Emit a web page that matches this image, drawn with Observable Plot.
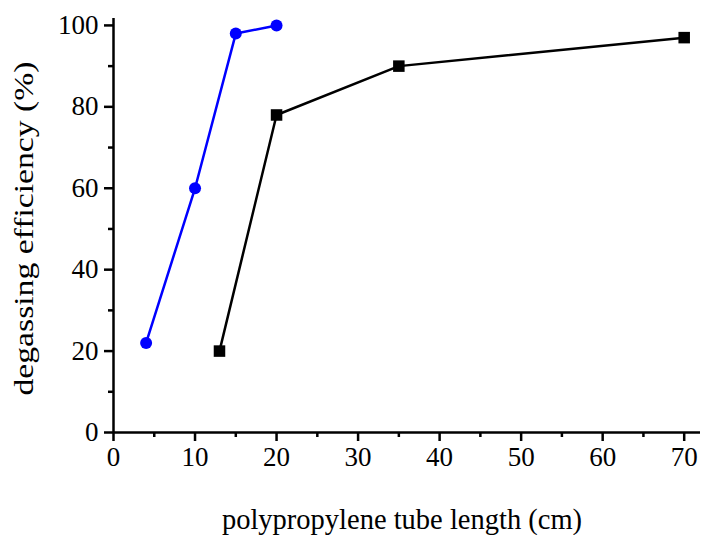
<!DOCTYPE html>
<html>
<head>
<meta charset="utf-8">
<script src="https://cdn.jsdelivr.net/npm/d3@7"></script>
<script src="https://cdn.jsdelivr.net/npm/@observablehq/plot@0.6"></script>
<style>
body{margin:0;padding:0;background:#fff;}
</style>
</head>
<body>
<div id="chart"></div>
<script>
const blueX = [4, 10, 15, 20];
const blueY = [22, 60, 98, 100];
const blackX = [13, 20, 35, 70];
const blackY = [20, 78, 90, 97];
const xMajor = [0, 10, 20, 30, 40, 50, 60, 70];
const xMinor = [5, 15, 25, 35, 45, 55, 65];
const yMajor = [0, 20, 40, 60, 80, 100];
const yMinor = [10, 30, 50, 70, 90];

const blue = blueX.map((x, i) => ({x, y: blueY[i]}));
const black = blackX.map((x, i) => ({x, y: blackY[i]}));

const chart = Plot.plot({
  width: 702,
  height: 535,
  marginLeft: 113,
  marginRight: 2,
  marginTop: 18,
  marginBottom: 103,
  style: {fontFamily: "'Liberation Serif', serif", fontSize: "28px", background: "#fff", color: "#000"},
  x: {domain: [0, 72]},
  y: {domain: [0, 101.7]},
  marks: [
    Plot.axisX(xMinor, {tickSize: 5, strokeWidth: 2.5, text: null, label: null}),
    Plot.axisX(xMajor, {tickSize: 9, strokeWidth: 2.5, tickPadding: 5, fontSize: 27,
      label: "polypropylene tube length (cm)", labelAnchor: "center", labelArrow: "none", labelOffset: 96}),
    Plot.axisY(yMinor, {tickSize: 5, strokeWidth: 2.5, text: null, label: null}),
    Plot.axisY(yMajor, {tickSize: 9, strokeWidth: 2.5, tickPadding: 6, fontSize: 27,
      label: "degassing efficiency (%)", labelAnchor: "center", labelArrow: "none", labelOffset: 100}),
    Plot.ruleX([0], {strokeWidth: 2.5}),
    Plot.ruleY([0], {strokeWidth: 2.5}),
    Plot.line(blue, {x: "x", y: "y", stroke: "#0000ff", strokeWidth: 2.5}),
    Plot.dot(blue, {x: "x", y: "y", r: 6, fill: "#0000ff", stroke: "none"}),
    Plot.line(black, {x: "x", y: "y", stroke: "#000", strokeWidth: 2.5}),
    Plot.dot(black, {x: "x", y: "y", symbol: "square", r: 6.5, fill: "#000", stroke: "none"})
  ]
});
const yl = chart.querySelector('[aria-label="y-axis label"] text');
if (yl) {
  yl.style.fontSize = "28px";
  yl.setAttribute("textLength", "334");
  yl.setAttribute("lengthAdjust", "spacingAndGlyphs");
  yl.setAttribute("dx", "-3");
}
const xl = chart.querySelector('[aria-label="x-axis label"] text');
if (xl) {
  xl.style.fontSize = "28.5px";
  xl.setAttribute("dx", "-5");
}
document.getElementById("chart").appendChild(chart);
</script>
</body>
</html>
